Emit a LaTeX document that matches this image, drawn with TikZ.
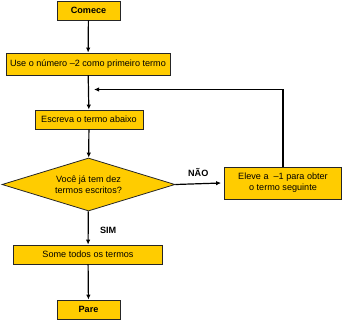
\documentclass[tikz,border=0pt]{standalone}
\usepackage{fontspec}
\setmainfont{Liberation Sans}
\usepackage{tikz}
\usetikzlibrary{arrows.meta, shapes.geometric, positioning, calc}
\definecolor{flowgold}{HTML}{FFCC00}

\begin{document}
\begin{tikzpicture}[x=1pt, y=-1pt, line width=1.2pt, font=\fontsize{9.1}{11}\selectfont]
  \tikzstyle{stepbox}=[draw=black!85, line width=0.8pt, fill=flowgold, inner sep=0pt, align=center]
  \tikzstyle{askbox}=[stepbox, diamond, aspect=3.26]
  \tikzstyle{flow}=[-{Latex[length=5pt,width=4.5pt]}]

  \useasboundingbox (0,0) rectangle (342,321);

  % Boxes
  \node[stepbox, minimum width=63pt, minimum height=19pt] (start) at (88.5,10.5) {\textbf{Comece}};
  \node[stepbox, minimum width=164pt, minimum height=22pt] (first) at (88,64) {Use o número –2 como primeiro termo};
  \node[stepbox, minimum width=108pt, minimum height=19pt] (write) at (89,119.5) {Escreva o termo abaixo};
  \node[askbox, minimum width=173pt, minimum height=53pt] (ask) at (88.5,184.5) {Você já tem dez\\termos escritos?};
  \node[stepbox, minimum width=149pt, minimum height=19pt] (sum) at (88,254.5) {Some todos os termos};
  \node[stepbox, minimum width=63pt, minimum height=19pt] (stop) at (88.5,309.5) {\textbf{Pare}};
  \node[stepbox, minimum width=117pt, minimum height=32pt] (raise) at (283,183) {Eleve a \ –1 para obter\\o termo seguinte};

  % Connectors
  \draw[flow] (start) -- (first);
  \draw[flow] (first) -- (write);
  \draw[flow] (write) -- (ask);
  \draw[flow] (ask) -- node[right, xshift=8pt, yshift=-2pt] {\textbf{SIM}} (sum);
  \draw[flow] (sum) -- (stop);
  \draw[flow] (ask.east) -- node[above=3pt] {\textbf{NÃO}} ($(raise.west)+(-3,0)$);

  % Loop back
  \coordinate (loopend) at (94,89.5);
  \draw[flow] (raise.north) |- (loopend);
\end{tikzpicture}
\end{document}
